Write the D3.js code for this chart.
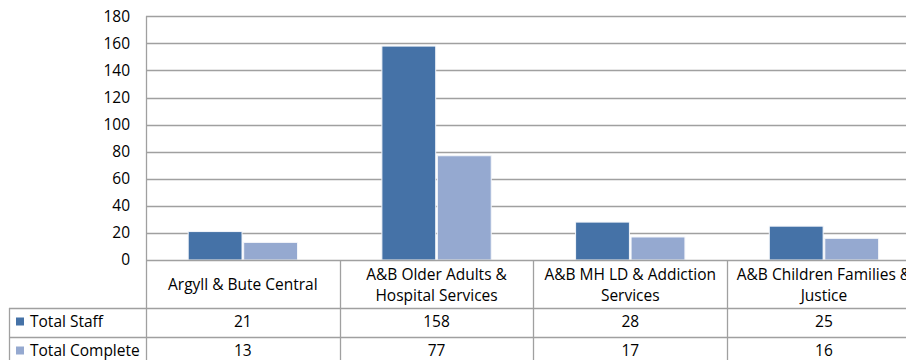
<!DOCTYPE html>
<html>
<head>
<meta charset="utf-8">
<script src="https://cdn.jsdelivr.net/npm/d3@7"></script>
<style>
  html, body { margin: 0; padding: 0; background: #fff; }
  svg { display: block; }
  text { font-family: "Open Sans", "Liberation Sans", sans-serif; fill: #000; }
</style>
</head>
<body>
<svg id="chart" width="906" height="360"></svg>
<script>
// ---- data ----
const categories = [
  "Argyll & Bute Central",
  "A&B Older Adults &\nHospital Services",
  "A&B MH LD & Addiction\nServices",
  "A&B Children Families &\nJustice"
];
const seriesNames = ["Total Staff", "Total Complete"];
const totalStaff = [21, 158, 28, 25];
const totalComplete = [13, 77, 17, 16];
const yTicks = [0, 20, 40, 60, 80, 100, 120, 140, 160, 180];
const seriesColors = ["#4572A7", "#95A9D0"];

// ---- layout ----
const W = 906, H = 360;
const plotLeft = 146, plotRight = 920.8;
const plotTop = 16.3, plotBottom = 260;
const headerBottom = 308, row1Bottom = 337, row2Bottom = 366;
const tableLeft = 9;
const fontSize = 15.5;
const gridColor = "#a0a0a0";

const svg = d3.select("#chart");
svg.append("rect").attr("width", W).attr("height", H).attr("fill", "#fff");

const x0 = d3.scaleBand().domain(categories).range([plotLeft, plotRight]).paddingInner(0).paddingOuter(0);
const x1 = d3.scaleBand().domain(seriesNames).range([0, x0.bandwidth()]).paddingInner(0.03).paddingOuter(0.76);
const y = d3.scaleLinear().domain([0, 180]).range([plotBottom, plotTop]);

const values = [totalStaff, totalComplete];

// gridlines
svg.append("g").selectAll("line").data(yTicks.filter(d => d > 0)).join("line")
  .attr("x1", plotLeft).attr("x2", W)
  .attr("y1", d => Math.round(y(d)) + 0.5).attr("y2", d => Math.round(y(d)) + 0.5)
  .attr("stroke", gridColor).attr("stroke-width", 1.3);

// y axis labels via d3 axis
const yAxis = d3.axisLeft(y).tickValues(yTicks).tickSize(0).tickPadding(16);
const gy = svg.append("g").attr("transform", `translate(${plotLeft},0)`).call(yAxis);
gy.select(".domain").remove();
gy.selectAll("text").style("font-size", fontSize + "px").style("font-family", '"Open Sans", sans-serif').attr("fill", "#000");

// bars
seriesNames.forEach((s, si) => {
  svg.append("g").selectAll("rect").data(categories).join("rect")
    .attr("x", c => x0(c) + x1(s))
    .attr("y", (c, i) => y(values[si][i]))
    .attr("width", x1.bandwidth())
    .attr("height", (c, i) => y(0) - y(values[si][i]))
    .attr("fill", seriesColors[si])
    .attr("stroke", "#f4f6fa").attr("stroke-width", 1);
});

// table lines
const lines = svg.append("g").attr("stroke", gridColor).attr("stroke-width", 1.3);
lines.append("line").attr("x1", plotLeft).attr("x2", W).attr("y1", plotBottom + 0.5).attr("y2", plotBottom + 0.5);
lines.append("line").attr("x1", plotLeft + 0.5).attr("x2", plotLeft + 0.5).attr("y1", plotTop).attr("y2", H);
[headerBottom, row1Bottom].forEach(yy => {
  lines.append("line").attr("x1", tableLeft).attr("x2", W).attr("y1", yy + 0.5).attr("y2", yy + 0.5);
});
lines.append("line").attr("x1", tableLeft + 0.5).attr("x2", tableLeft + 0.5).attr("y1", headerBottom).attr("y2", H);
categories.slice(1).forEach(c => {
  const xx = Math.round(x0(c)) + 0.5;
  lines.append("line").attr("x1", xx).attr("x2", xx).attr("y1", plotBottom).attr("y2", H);
});

// header labels
const header = svg.append("g");
categories.forEach(c => {
  const parts = c.split("\n");
  const cx = x0(c) + x0.bandwidth() / 2;
  const midY = (plotBottom + headerBottom) / 2 + 1;
  const lh = 20.5;
  const t = header.append("text").attr("text-anchor", "middle").style("font-size", fontSize + "px");
  parts.forEach((p, k) => {
    t.append("tspan").attr("x", cx)
      .attr("y", midY + (k - (parts.length - 1) / 2) * lh)
      .attr("dy", "0.35em").text(p);
  });
});

// data rows
const rowTops = [headerBottom, row1Bottom];
const rowBots = [row1Bottom, row2Bottom];
seriesNames.forEach((s, si) => {
  const cy = (rowTops[si] + rowBots[si]) / 2 - 1;
  svg.append("rect").attr("x", 16).attr("y", cy - 4).attr("width", 8).attr("height", 8).attr("fill", seriesColors[si]);
  svg.append("text").attr("x", 30).attr("y", cy).attr("dy", "0.35em").style("font-size", fontSize + "px").text(s);
  svg.append("g").selectAll("text").data(categories).join("text")
    .attr("x", c => x0(c) + x0.bandwidth() / 2)
    .attr("y", cy).attr("dy", "0.35em")
    .attr("text-anchor", "middle").style("font-size", fontSize + "px")
    .text((c, i) => values[si][i]);
});
</script>
</body>
</html>
